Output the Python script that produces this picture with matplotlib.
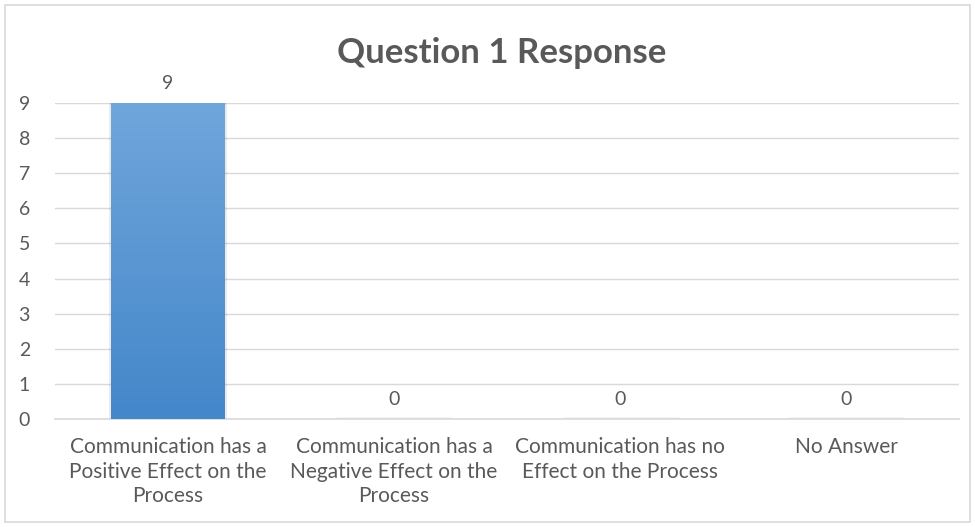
import numpy as np
import matplotlib.pyplot as plt
from matplotlib.colors import LinearSegmentedColormap
from matplotlib.patches import Rectangle

categories = [
    "Communication has a\nPositive Effect on the\nProcess",
    "Communication has a\nNegative Effect on the\nProcess",
    "Communication has no\nEffect on the Process",
    "No Answer",
]
responses = [9, 0, 0, 0]
y_ticks = list(range(0, 10))

plt.rcParams["font.family"] = ["Lato", "DejaVu Sans"]
text_grey = "#595959"
grid_grey = "#D9D9D9"

fig = plt.figure(figsize=(9.75, 5.27), dpi=100)
fig.patches.append(Rectangle((0.005, 0.01), 0.99, 0.98, transform=fig.transFigure,
                             fill=False, edgecolor="#D9D9D9", linewidth=1.2))
ax = fig.add_axes([0.0564, 0.2049, 0.9272, 0.5997])

x = np.arange(len(categories))
width = 0.5
bars = ax.bar(x, responses, width=width, color="none", zorder=3)

# vertical gradient fill, lighter at the top
grad = LinearSegmentedColormap.from_list("bar", ["#4487CA", "#70A6DB"])
for b in bars:
    h = b.get_height()
    if h <= 0:
        ax.plot([b.get_x(), b.get_x() + width], [0.02, 0.02], color="#F2F2F2",
                lw=2, zorder=2)
        continue
    x0 = b.get_x()
    # soft shadow behind the bar
    ax.add_patch(Rectangle((x0 - 0.012, 0), width + 0.024, h, color="#000000",
                           alpha=0.08, lw=0, zorder=2))
    im = ax.imshow(np.linspace(0, 1, 256).reshape(-1, 1), cmap=grad, aspect="auto",
                   origin="lower", extent=[x0, x0 + width, 0, h], zorder=3)
    im.set_clip_path(b)

for xi, v in zip(x, responses):
    ax.text(xi, v + 0.3, str(v), ha="center", va="bottom", fontsize=14,
            color=text_grey, clip_on=False)

ax.set_xlim(-0.5, len(categories) - 0.5)
ax.set_ylim(0, 9)
ax.set_yticks(y_ticks)
ax.set_xticks(x)
ax.set_xticklabels(categories, fontsize=15, color=text_grey, linespacing=1.28)
ax.tick_params(axis="y", labelsize=14, labelcolor=text_grey, length=0, pad=18)
ax.tick_params(axis="x", length=0, pad=13)
ax.grid(axis="y", color=grid_grey, lw=1, zorder=0)
for s in ["top", "right", "left"]:
    ax.spines[s].set_visible(False)
ax.spines["bottom"].set_color(grid_grey)
ax.spines["bottom"].set_linewidth(1.2)

fig.text(0.515, 0.9, "Question 1 Response", ha="center", va="center",
         fontsize=25, fontweight="bold", color=text_grey)

fig.savefig("out.png", dpi=100)
